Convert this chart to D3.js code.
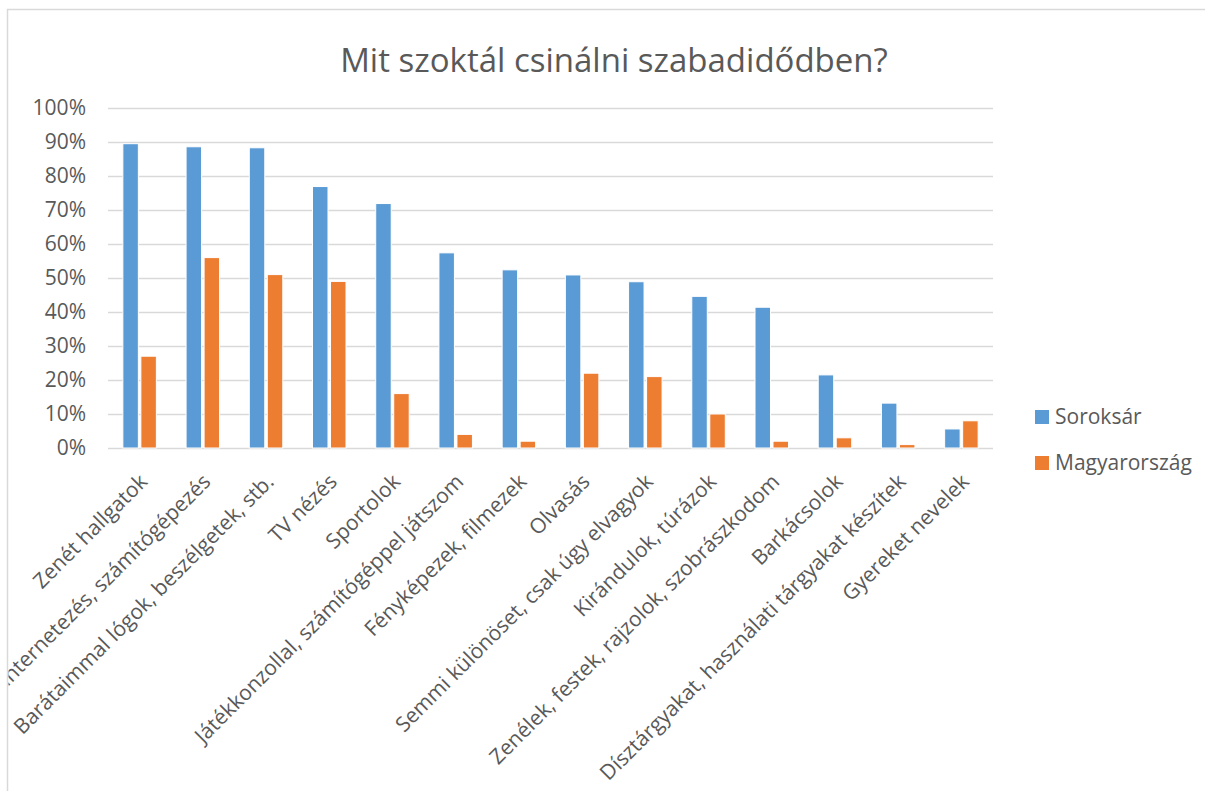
<!DOCTYPE html>
<html>
<head>
<meta charset="utf-8">
<script src="https://cdn.jsdelivr.net/npm/d3@7"></script>
<style>
  body { margin: 0; background: #fff; }
  text { font-family: "Open Sans", sans-serif; fill: #595959; }
</style>
</head>
<body>
<div id="chart"></div>
<script>
const width = 1205;
const height = 791;

const categories = [
    "Zenét hallgatok",
    "Internetezés, számítógépezés",
    "Barátaimmal lógok, beszélgetek, stb.",
    "TV nézés",
    "Sportolok",
    "Játékkonzollal, számítógéppel játszom",
    "Fényképezek, filmezek",
    "Olvasás",
    "Semmi különöset, csak úgy elvagyok",
    "Kirándulok, túrázok",
    "Zenélek, festek, rajzolok, szobrászkodom",
    "Barkácsolok",
    "Dísztárgyakat, használati tárgyakat készítek",
    "Gyereket nevelek"
];
const seriesNames = ["Soroksár", "Magyarország"];
const soroksar     = [0.895, 0.886, 0.883, 0.769, 0.719, 0.574, 0.524, 0.509, 0.489, 0.446, 0.414, 0.215, 0.132, 0.056];
const magyarorszag = [0.27, 0.56, 0.51, 0.49, 0.16, 0.04, 0.02, 0.22, 0.21, 0.10, 0.02, 0.03, 0.01, 0.08];
const yTicks = [0, 0.1, 0.2, 0.3, 0.4, 0.5, 0.6, 0.7, 0.8, 0.9, 1.0];
const colors = ["#5b9bd5", "#ed7d31"];

const plot = { left: 108, right: 993, top: 108, bottom: 448 };

var svg = d3.select("#chart")
    .append("svg")
    .attr("width", width)
    .attr("height", height)

svg.append("rect")
    .attr("width", width)
    .attr("height", height)
    .attr("fill", "#fff")

// labels get cut by the chart frame on the left
svg.append("clipPath")
    .attr("id", "frame-clip")
    .append("rect")
    .attr("x", 8.5)
    .attr("y", 10)
    .attr("width", width)
    .attr("height", height)

// chart frame, cut off by the picture on the right and bottom
svg.append("rect")
    .attr("x", 7.5)
    .attr("y", 9.5)
    .attr("width", width)
    .attr("height", height)
    .attr("fill", "none")
    .attr("stroke", "#d9d9d9")
    .attr("stroke-width", 1.5)

svg.append("text")
    .attr("x", 614)
    .attr("y", 72)
    .attr("text-anchor", "middle")
    .style("font-size", "33px")
    .text("Mit szoktál csinálni szabadidődben?")

var x = d3.scaleBand()
    .domain(categories)
    .range([plot.left, plot.right])
    .padding(0)

var xs = d3.scaleBand()
    .domain(seriesNames)
    .range([0, x.bandwidth()])
    .paddingInner(0.14)
    .paddingOuter(0.825)

var y = d3.scaleLinear()
    .domain([0, 1])
    .range([plot.bottom, plot.top])

// gridlines + y labels
svg.append("g")
    .attr("class", "yAxis")
    .attr("transform", "translate(" + plot.left + ",0)")
    .call(d3.axisLeft(y)
        .tickValues(yTicks)
        .tickSize(-(plot.right - plot.left))
        .tickPadding(22)
        .tickFormat(d3.format(".0%")))
    .call(g => g.select(".domain").remove())
    .call(g => g.selectAll("line").attr("stroke", "#d9d9d9").attr("stroke-width", 1.4))
    .call(g => g.selectAll("text")
        .style("font-size", "21px")
        .style("font-family", "'Open Sans', sans-serif")
        .attr("fill", "#595959"))

var rows = categories.map((c, i) => ({ cat: c, vals: [soroksar[i], magyarorszag[i]] }))

var groups = svg.selectAll("g.cat")
    .data(rows)
    .enter()
    .append("g")
    .attr("class", "cat")
    .attr("transform", d => "translate(" + x(d.cat) + ",0)")

groups.selectAll("rect")
    .data(d => d.vals.map((v, j) => ({ key: seriesNames[j], v: v, j: j })))
    .enter()
    .append("rect")
    .attr("x", d => xs(d.key))
    .attr("y", d => y(d.v))
    .attr("width", xs.bandwidth())
    .attr("height", d => y(0) - y(d.v))
    .attr("fill", d => colors[d.j])
    .attr("stroke", "#fff")
    .attr("stroke-width", 1)

// category labels, rotated
svg.append("g")
    .attr("clip-path", "url(#frame-clip)")
    .selectAll("text.xlab")
    .data(categories)
    .enter()
    .append("text")
    .attr("class", "xlab")
    .attr("text-anchor", "end")
    .style("font-size", "21px")
    .attr("transform", d => {
        var cx = x(d) + x.bandwidth() / 2 + 9;
        return "translate(" + cx + "," + 483 + ") rotate(-45)";
    })
    .text(d => d)

// legend
var legend = svg.selectAll("g.leg")
    .data(seriesNames)
    .enter()
    .append("g")
    .attr("class", "leg")
    .attr("transform", (d, i) => "translate(1035," + (410 + i * 46) + ")")

legend.append("rect")
    .attr("width", 14)
    .attr("height", 14)
    .attr("fill", (d, i) => colors[i])

legend.append("text")
    .attr("x", 20)
    .attr("y", 14)
    .style("font-size", "21px")
    .text(d => d)
</script>
</body>
</html>
